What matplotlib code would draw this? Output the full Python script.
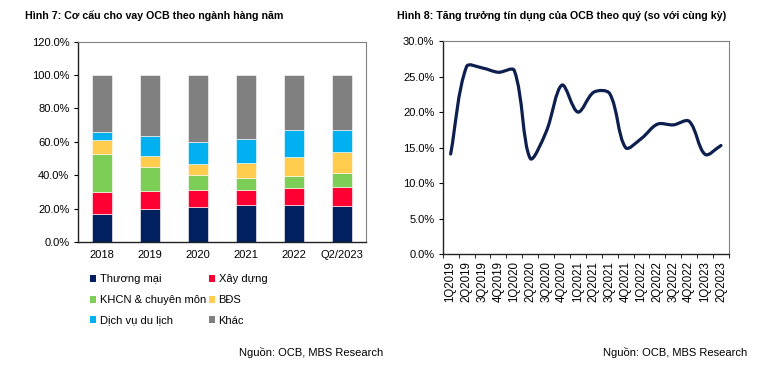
import numpy as np
import matplotlib
matplotlib.use("Agg")
import matplotlib.pyplot as plt
from matplotlib.patches import Patch
from matplotlib.path import Path
from matplotlib.patches import PathPatch
from matplotlib.ticker import FuncFormatter, MultipleLocator, FixedLocator

plt.rcParams['font.family'] = ['Liberation Sans', 'DejaVu Sans']

# ---- data: loan structure by sector (%), fig 7
years = ["2018", "2019", "2020", "2021", "2022", "Q2/2023"]
thuong_mai = [16.6, 19.6, 20.8, 22.0, 22.0, 21.6]
xay_dung = [13.4, 11.2, 10.6, 9.4, 10.2, 11.2]
khcn = [22.6, 14.0, 8.6, 7.0, 7.6, 8.8]
bds = [8.8, 7.0, 6.8, 8.8, 11.0, 12.4]
dich_vu = [4.4, 11.8, 13.0, 14.6, 16.0, 13.2]
khac = [34.2, 36.4, 40.2, 38.2, 33.2, 32.8]

series_names = ["Thương mại", "Xây dựng", "KHCN & chuyên môn", "BĐS",
                "Dịch vụ du lịch", "Khác"]
series_colors = ["#002060", "#FF0033", "#7DCE56", "#FFCC4D", "#00B0F0", "#808080"]

# ---- data: credit growth yoy by quarter (%), fig 8
quarters = ["1Q2019", "2Q2019", "3Q2019", "4Q2019", "1Q2020", "2Q2020",
            "3Q2020", "4Q2020", "1Q2021", "2Q2021", "3Q2021", "4Q2021",
            "1Q2022", "2Q2022", "3Q2022", "4Q2022", "1Q2023", "2Q2023"]
growth = [14.1, 26.4, 26.2, 25.6, 25.85, 13.5, 17.2, 23.8, 20.0, 22.8,
          22.6, 15.0, 16.3, 18.3, 18.2, 18.7, 14.05, 15.3]

pct = FuncFormatter(lambda v, _: f"{v:.1f}%")


def smooth_path(ax, x, y):
    """Smoothed line like Excel's: bezier segments, tangents weighted by
    segment lengths in screen space so short segments don't overshoot."""
    pts = ax.transData.transform(np.column_stack([x, y]).astype(float))
    n = len(pts)
    verts = [pts[0]]
    codes = [Path.MOVETO]
    for i in range(n - 1):
        p0 = pts[i - 1] if i > 0 else pts[i]
        p1 = pts[i]
        p2 = pts[i + 1]
        p3 = pts[i + 2] if i + 2 < n else pts[i + 1]
        d01 = np.hypot(*(p1 - p0))
        d12 = np.hypot(*(p2 - p1))
        d23 = np.hypot(*(p3 - p2))
        t1 = (p2 - p0) * (d12 / (d01 + d12)) / 3.0 if d01 > 0 else (p2 - p1) / 3.0
        t2 = (p3 - p1) * (d12 / (d12 + d23)) / 3.0 if d23 > 0 else (p2 - p1) / 3.0
        verts += [p1 + t1, p2 - t2, p2]
        codes += [Path.CURVE4] * 3
    verts = ax.transData.inverted().transform(np.array(verts))
    return Path(verts, codes)


fig = plt.figure(figsize=(7.65, 3.75), dpi=100)

# ---------------- left chart
ax1 = fig.add_axes([0.1016, 0.3547, 0.3769, 0.5341])
x = np.arange(len(years))
data = [thuong_mai, xay_dung, khcn, bds, dich_vu, khac]
bottom = np.zeros(len(years))
handles = []
for vals, name, col in zip(data, series_names, series_colors):
    ax1.bar(x, vals, 0.41, bottom=bottom, color=col, edgecolor='white',
            linewidth=0.4, zorder=2)
    bottom += np.array(vals)
    handles.append(Patch(facecolor=col, edgecolor='none', label=name))

ax1.set_xlim(-0.5, len(years) - 0.5)
ax1.set_ylim(0, 120)
ax1.yaxis.set_major_locator(MultipleLocator(20))
ax1.yaxis.set_major_formatter(pct)
ax1.set_xticks(x)
ax1.set_xticklabels(years)
ax1.tick_params(axis='x', length=0, pad=6, labelsize=8)
ax1.tick_params(axis='y', length=3, direction='out', labelsize=8, pad=3)
for s in ['top', 'right']:
    ax1.spines[s].set_color('#808080')
    ax1.spines[s].set_linewidth(0.8)
for s in ['left', 'bottom']:
    ax1.spines[s].set_color('#222222')
    ax1.spines[s].set_linewidth(1.0)

order = [0, 2, 4, 1, 3, 5]
fig.legend([handles[i] for i in order], [series_names[i] for i in order],
           loc='upper left', bbox_to_anchor=(0.117, 0.268), ncol=2,
           frameon=False, fontsize=8, handlelength=0.6, handleheight=0.6,
           handletextpad=0.3, columnspacing=0.25, labelspacing=0.95,
           borderpad=0, borderaxespad=0)

fig.text(25 / 765, 1 - 16 / 375, "Hình 7: Cơ cấu cho vay OCB theo ngành hàng năm",
         fontsize=7.7, fontweight='bold', va='center', ha='left')
fig.text(383 / 765, 1 - 352 / 375, "Nguồn: OCB, MBS Research",
         fontsize=8, va='center', ha='right')

# ---------------- right chart
ax2 = fig.add_axes([0.5787, 0.3219, 0.3742, 0.5688])
xq = np.arange(len(quarters))
ax2.set_xlim(-0.5, len(quarters) - 0.5)
ax2.set_ylim(0, 30)
ax2.add_patch(PathPatch(smooth_path(ax2, xq, growth), facecolor='none',
                        edgecolor='#0D1F4F', linewidth=2.3,
                        capstyle='round', joinstyle='round'))
ax2.yaxis.set_major_locator(MultipleLocator(5))
ax2.yaxis.set_major_formatter(pct)
ax2.set_xticks(xq)
ax2.set_xticklabels(quarters, rotation=90)
ax2.xaxis.set_minor_locator(FixedLocator(np.arange(len(quarters) + 1) - 0.5))
ax2.tick_params(axis='x', which='major', length=0, pad=5, labelsize=8.3)
ax2.tick_params(axis='x', which='minor', length=3, direction='out')
ax2.tick_params(axis='y', length=3, direction='out', labelsize=8, pad=3)
for s in ['top', 'right']:
    ax2.spines[s].set_color('#808080')
    ax2.spines[s].set_linewidth(0.8)
for s in ['left', 'bottom']:
    ax2.spines[s].set_color('#222222')
    ax2.spines[s].set_linewidth(1.0)

fig.text(397 / 765, 1 - 16 / 375,
         "Hình 8: Tăng trưởng tín dụng của OCB theo quý (so với cùng kỳ)",
         fontsize=7.7, fontweight='bold', va='center', ha='left')
fig.text(747 / 765, 1 - 352 / 375, "Nguồn: OCB, MBS Research",
         fontsize=8, va='center', ha='right')

fig.savefig("out.png", dpi=100)
